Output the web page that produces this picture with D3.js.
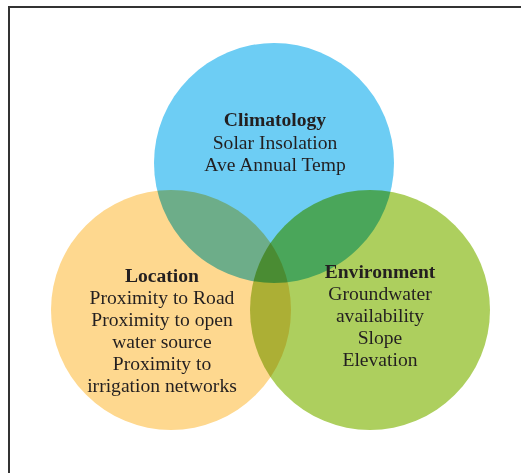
<html>
    <head>
        <title>Venn</title>
        <style>
            body { margin: 0; background: #fff; }
            text { font-family: "Liberation Serif", "Times New Roman", serif; fill: #231f20; }
        </style>
    </head>

    <body>
        <script src="https://d3js.org/d3.v7.min.js"></script>
        <script>
            // the three sets and what each one holds
            var sets = ['Climatology', 'Location', 'Environment'];
            var items = [
                ['Solar Insolation', 'Ave Annual Temp'],
                ['Proximity to Road', 'Proximity to open', 'water source', 'Proximity to', 'irrigation networks'],
                ['Groundwater', 'availability', 'Slope', 'Elevation']
            ];
            var colors = ['#6dcdf4', '#fed88f', '#adcf5e'];
            var rows = ['top', 'bottom', 'bottom'];
            var cols = ['middle', 'left', 'right'];

            var width = 521, height = 473, r = 120;

            var svg = d3.select('body')
                .append('svg')
                .attr('width', width)
                .attr('height', height);

            // frame: top and left edge only
            svg.append('path')
                .attr('d', 'M9,473 V7 H521')
                .attr('fill', 'none')
                .attr('stroke', '#333')
                .attr('stroke-width', 2);

            var x = d3.scaleOrdinal()
                .domain(['left', 'middle', 'right'])
                .range([171, 274, 370]);

            var y = d3.scaleOrdinal()
                .domain(['top', 'bottom'])
                .range([163, 310]);

            var data = sets.map(function(s, i) {
                return { name: s, items: items[i], color: colors[i], row: rows[i], col: cols[i] };
            });

            svg.selectAll('circle')
                .data(data)
                .enter()
                .append('circle')
                .attr('cx', function(d) { return x(d.col); })
                .attr('cy', function(d) { return y(d.row); })
                .attr('r', r)
                .style('fill', function(d) { return d.color; })
                .style('mix-blend-mode', 'multiply');

            // label offsets relative to each circle centre
            var tx = { left: -9, middle: 1, right: 10 };
            var ty = { left: -28, middle: -37, right: -32 };
            var lineH = { left: 22, middle: 22.5, right: 22 };

            var labels = svg.selectAll('text.label')
                .data(data)
                .enter()
                .append('text')
                .attr('class', 'label')
                .attr('text-anchor', 'middle')
                .attr('font-size', 19.6)
                .attr('transform', function(d) {
                    return 'translate(' + (x(d.col) + tx[d.col]) + ',' + (y(d.row) + ty[d.col]) + ')';
                });

            labels.append('tspan')
                .attr('x', 0)
                .attr('y', 0)
                .attr('font-weight', 'bold')
                .text(function(d) { return d.name; });

            labels.each(function(d) {
                d3.select(this).selectAll('tspan.item')
                    .data(d.items)
                    .enter()
                    .append('tspan')
                    .attr('class', 'item')
                    .attr('x', 0)
                    .attr('y', function(t, i) { return (i + 1) * lineH[d.col]; })
                    .text(function(t) { return t; });
            });
        </script>
    </body>
</html>
